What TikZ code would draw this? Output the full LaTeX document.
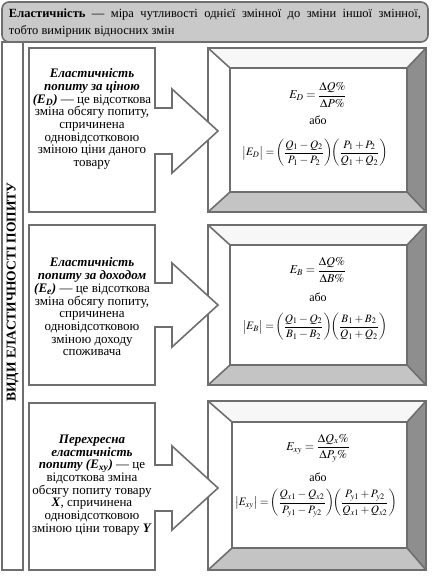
\documentclass[tikz,border=0pt]{standalone}
\usepackage{amsmath}
\usepackage{mathptmx}
\usepackage[no-math]{fontspec}
\setmainfont{Liberation Serif}
\usepackage{xcolor}
\usepackage{tikz}

\definecolor{linegray}{HTML}{6E6E6E}
\definecolor{bannergray}{HTML}{C9C9C9}
\definecolor{bevdark}{HTML}{8E8E8E}
\definecolor{bevmid}{HTML}{C4C4C4}
\definecolor{bevlight}{HTML}{F7F7F7}

\begin{document}
\begin{tikzpicture}[x=1pt, y=-1pt,
    every node/.style={inner sep=0pt, align=center},
    lin/.style={draw=linegray, line width=1.6pt},
    deftext/.style={font=\fontsize{13}{12.7}\selectfont},
    formula/.style={font=\fontsize{12}{14}\selectfont},
    bigformula/.style={font=\fontsize{11.3}{13}\selectfont}]
    \useasboundingbox (0,0) rectangle (431,578);

    % Рамки з формулами (праворуч)
    \node[minimum width=218, minimum height=164] (o1) at (317,130) {};
    \node[minimum width=177, minimum height=124] (i1) at (318.5,130) {};
    \node[minimum width=218, minimum height=160] (o2) at (317,305) {};
    \node[minimum width=177, minimum height=120] (i2) at (318.5,305) {};
    \node[minimum width=218, minimum height=169] (o3) at (317,485.5) {};
    \node[minimum width=175, minimum height=126] (i3) at (319.5,485) {};

    \fill[white] (o1.north west) rectangle (o1.south east);
    \fill[bevlight] (o1.north west) -- (o1.north east) -- (i1.north east) -- (i1.north west) -- cycle;
    \fill[bevdark] (o1.north east) -- (o1.south east) -- (i1.south east) -- (i1.north east) -- cycle;
    \fill[bevmid] (o1.south east) -- (o1.south west) -- (i1.south west) -- (i1.south east) -- cycle;
    \draw[lin] (o1.north west) rectangle (o1.south east);
    \draw[lin] (i1.north west) rectangle (i1.south east);
    \draw[lin] (o1.north west) -- (i1.north west);
    \draw[lin] (o1.north east) -- (i1.north east);
    \draw[lin] (o1.south east) -- (i1.south east);
    \draw[lin] (o1.south west) -- (i1.south west);

    \fill[white] (o2.north west) rectangle (o2.south east);
    \fill[bevlight] (o2.north west) -- (o2.north east) -- (i2.north east) -- (i2.north west) -- cycle;
    \fill[bevdark] (o2.north east) -- (o2.south east) -- (i2.south east) -- (i2.north east) -- cycle;
    \fill[bevmid] (o2.south east) -- (o2.south west) -- (i2.south west) -- (i2.south east) -- cycle;
    \draw[lin] (o2.north west) rectangle (o2.south east);
    \draw[lin] (i2.north west) rectangle (i2.south east);
    \draw[lin] (o2.north west) -- (i2.north west);
    \draw[lin] (o2.north east) -- (i2.north east);
    \draw[lin] (o2.south east) -- (i2.south east);
    \draw[lin] (o2.south west) -- (i2.south west);

    \fill[white] (o3.north west) rectangle (o3.south east);
    \fill[bevlight] (o3.north west) -- (o3.north east) -- (i3.north east) -- (i3.north west) -- cycle;
    \fill[bevdark] (o3.north east) -- (o3.south east) -- (i3.south east) -- (i3.north east) -- cycle;
    \fill[bevmid] (o3.south east) -- (o3.south west) -- (i3.south west) -- (i3.south east) -- cycle;
    \draw[lin] (o3.north west) rectangle (o3.south east);
    \draw[lin] (i3.north west) rectangle (i3.south east);
    \draw[lin] (o3.north west) -- (i3.north west);
    \draw[lin] (o3.north east) -- (i3.north east);
    \draw[lin] (o3.south east) -- (i3.south east);
    \draw[lin] (o3.south west) -- (i3.south west);

    % Бокова смуга і заголовок
    \draw[lin, fill=white] (2,42) rectangle (23,570);
    \draw[lin, fill=bannergray, rounded corners=7pt] (2,2) rectangle (428,42);
    \node[text width=412, align=justify, font=\fontsize{12.5}{17.5}\selectfont] (title) at (215,23)
        {\textbf{Еластичність} — міра чутливості однієї змінної до зміни іншої змінної,\linebreak тобто вимірник відносних змін};
    \node[rotate=90, font=\fontsize{13.5}{15}\selectfont\bfseries] (vidy) at (12.5,292) {ВИДИ ЕЛАСТИЧНОСТІ ПОПИТУ};

    % Блоки-стрілки (ліворуч)
    \draw[lin, fill=white] (29,48) -- (155,48) -- (155,108) -- (172,108) -- (172,89) -- (218,131)
        -- (172,173) -- (172,154) -- (155,154) -- (155,212) -- (29,212) -- cycle;
    \draw[lin, fill=white] (29,225) -- (155,225) -- (155,283) -- (172,283) -- (172,263) -- (218,305)
        -- (172,347) -- (172,327) -- (155,327) -- (155,385) -- (29,385) -- cycle;
    \draw[lin, fill=white] (29,403) -- (155,403) -- (155,465) -- (172,465) -- (172,446) -- (218,488)
        -- (172,530) -- (172,511) -- (155,511) -- (155,570) -- (29,570) -- cycle;

    \node[deftext] (d1) at (92,119) {\textbf{\textit{Еластичність}}\\
        \textbf{\textit{попиту за ціною}}\\
        \textbf{\textit{(E\textsubscript{D})}} — це відсоткова\\
        зміна обсягу попиту,\\ спричинена\\ одновідсотковою\\ зміною ціни даного\\ товару};
    \node[deftext] (d2) at (92,307) {\textbf{\textit{Еластичність}}\\
        \textbf{\textit{попиту за доходом}}\\
        \textbf{\textit{(E\textsubscript{e})}} — це відсоткова\\
        зміна обсягу попиту,\\ спричинена\\ одновідсотковою\\ зміною доходу\\ споживача};
    \node[deftext] (d3) at (92,485) {\textbf{\textit{Перехресна}}\\
        \textbf{\textit{еластичність}}\\
        \textbf{\textit{попиту (E\textsubscript{xy})}} — це\\
        відсоткова зміна\\ обсягу попиту товару\\ \textbf{\textit{X}}, спричинена\\
        одновідсотковою\\ зміною ціни товару \textbf{\textit{Y}}};

    % Формули
    \node[formula] (e1) at (318,95) {$E_D=\dfrac{\Delta Q\%}{\Delta P\%}$};
    \node[formula] (a1) at (318,120) {або};
    \node[bigformula] (f1) at (315,153) {$\bigl|E_D\bigr|=\!\left(\dfrac{Q_1-Q_2}{P_1-P_2}\right)\!\!\left(\dfrac{P_1+P_2}{Q_1+Q_2}\right)$};

    \node[formula] (e2) at (318,270) {$E_B=\dfrac{\Delta Q\%}{\Delta B\%}$};
    \node[formula] (a2) at (318,297) {або};
    \node[bigformula] (f2) at (315,327) {$\bigl|E_B\bigr|=\!\left(\dfrac{Q_1-Q_2}{B_1-B_2}\right)\!\!\left(\dfrac{B_1+B_2}{Q_1+Q_2}\right)$};

    \node[formula] (e3) at (318,448) {$E_{xy}=\dfrac{\Delta Q_x\%}{\Delta P_y\%}$};
    \node[formula] (a3) at (318,477) {або};
    \node[bigformula] (f3) at (316,503) {$\bigl|E_{xy}\bigr|=\!\left(\dfrac{Q_{x1}-Q_{x2}}{P_{y1}-P_{y2}}\right)\!\!\left(\dfrac{P_{y1}+P_{y2}}{Q_{x1}+Q_{x2}}\right)$};
\end{tikzpicture}
\end{document}
